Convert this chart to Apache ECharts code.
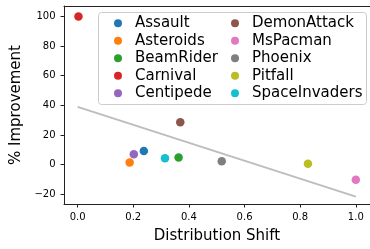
<!DOCTYPE html>
<html>
<head>
<meta charset="utf-8">
<script src="https://cdn.jsdelivr.net/npm/echarts@6/dist/echarts.min.js"></script>
<style>
  html, body { margin: 0; padding: 0; background: #fff; }
  #chart { width: 370px; height: 249px; }
</style>
</head>
<body>
<div id="chart"></div>
<script>
// games, in legend order
const games = ['Assault', 'Asteroids', 'BeamRider', 'Carnival', 'Centipede',
  'DemonAttack', 'MsPacman', 'Phoenix', 'Pitfall', 'SpaceInvaders']
const shiftValues = [0.238, 0.187, 0.363, 0.003, 0.202, 0.369, 1.0, 0.518, 0.828, 0.314]
const improvementValues = [9.3, 1.5, 4.8, 100, 7.0, 28.6, -10.2, 2.4, 0.65, 4.4]
const colors = ['#1f77b4', '#ff7f0e', '#2ca02c', '#d62728', '#9467bd',
  '#8c564b', '#e377c2', '#7f7f7f', '#bcbd22', '#17becf']

// fitted trend line end points
const trendX = [0, 1]
const trendY = [39, -21.5]

const xTicks = [0, 0.2, 0.4, 0.6, 0.8, 1.0]
const yTicks = [-20, 0, 20, 40, 60, 80, 100]

const font = 'DejaVu Sans'
const chart = echarts.init(document.getElementById('chart'))

const scatterSeries = games.map((name, i) => ({
  name: name,
  type: 'scatter',
  symbolSize: 8.5,
  itemStyle: { color: colors[i], opacity: 1 },
  data: [[shiftValues[i], improvementValues[i]]],
  z: 3
}))

const legendBase = {
  orient: 'vertical',
  top: 15.8,
  padding: 0,
  itemGap: 2.5,
  itemWidth: 8,
  itemHeight: 8,
  icon: 'circle',
  textStyle: { fontFamily: font, fontSize: 15, color: '#000', padding: [0, 0, 0, 8] },
  z: 10
}

chart.setOption({
  animation: false,
  grid: { left: 64, top: 6, width: 308, height: 205 },
  graphic: [{
    type: 'rect',
    shape: { x: 98.5, y: 12.5, width: 268, height: 92, r: 3 },
    style: { fill: 'rgba(255,255,255,0.8)', stroke: '#cccccc', lineWidth: 1 },
    z: 8
  }],
  legend: [
    Object.assign({ left: 114, data: games.slice(0, 5) }, legendBase),
    Object.assign({ left: 231, data: games.slice(5) }, legendBase)
  ],
  xAxis: [{
    type: 'value',
    min: -0.049,
    max: 1.051,
    name: 'Distribution Shift',
    nameLocation: 'middle',
    nameGap: 25,
    nameTextStyle: { fontFamily: font, fontSize: 15, color: '#000' },
    splitLine: { show: false },
    axisLine: { onZero: false, lineStyle: { color: '#222', width: 1 } },
    axisTick: { customValues: xTicks, length: 3.5, lineStyle: { color: '#222' } },
    axisLabel: {
      customValues: xTicks,
      margin: 8,
      fontFamily: font, fontSize: 10, color: '#000',
      formatter: v => v.toFixed(1)
    }
  }, {
    type: 'value',
    position: 'top',
    min: -0.049,
    max: 1.051,
    splitLine: { show: false },
    axisLine: { onZero: false, lineStyle: { color: '#222', width: 1 } },
    axisTick: { show: false },
    axisLabel: { show: false }
  }],
  yAxis: {
    type: 'value',
    min: -26.5,
    max: 107,
    name: '% Improvement',
    nameLocation: 'middle',
    nameGap: 33,
    nameTextStyle: { fontFamily: font, fontSize: 15, color: '#000' },
    splitLine: { show: false },
    axisLine: { show: true, onZero: false, lineStyle: { color: '#222', width: 1 } },
    axisTick: { show: true, customValues: yTicks, length: 3.5, lineStyle: { color: '#222' } },
    axisLabel: {
      customValues: yTicks,
      margin: 8.5,
      fontFamily: font, fontSize: 10, color: '#000',
      formatter: v => String(v).replace('-', '\u2212')
    }
  },
  series: [{
    name: 'trend',
    type: 'line',
    symbol: 'none',
    lineStyle: { color: '#bdbdbd', width: 2 },
    data: trendX.map((x, i) => [x, trendY[i]]),
    z: 2
  }].concat(scatterSeries)
})
</script>
</body>
</html>
